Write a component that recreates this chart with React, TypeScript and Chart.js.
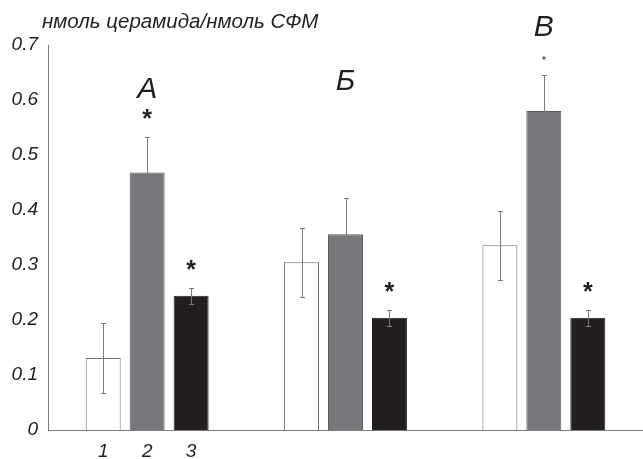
import React, { useEffect, useRef } from "react";
import { Chart, registerables } from "chart.js";

Chart.register(...registerables);

// ---- data ----
const groups = ["А", "Б", "В"];
const seriesLabels = ["1", "2", "3"];
const whiteValues = [0.131, 0.305, 0.336];
const whiteErrors = [0.063, 0.063, 0.063];
const grayValues = [0.468, 0.356, 0.58];
const grayErrors = [0.064, 0.065, 0.065];
const blackValues = [0.244, 0.204, 0.204];
const blackErrors = [0.014, 0.014, 0.014];
const whiteStars = ["", "", ""];
const grayStars = ["*", "", "*"];
const blackStars = ["*", "*", "*"];
const groupLetterLevels = [0.624, 0.638, 0.735];
const yTickLabels = ["0", "0.1", "0.2", "0.3", "0.4", "0.5", "0.6", "0.7"];
const yTitle = "нмоль церамида/нмоль СФМ";

const FONT = "'Liberation Sans', Arial, sans-serif";
const TEXT = "#231f20";

const errorsBySeries = [whiteErrors, grayErrors, blackErrors];
const starsBySeries = [whiteStars, grayStars, blackStars];

const annotationPlugin = {
  id: "annotations",
  afterDatasetsDraw(chart: any) {
    const ctx = chart.ctx;
    const yScale = chart.scales.y;
    const xScale = chart.scales.x;
    const area = chart.chartArea;
    ctx.save();
    // error bars + stars
    chart.data.datasets.forEach((ds: any, i: number) => {
      const meta = chart.getDatasetMeta(i);
      meta.data.forEach((el: any, j: number) => {
        const v = ds.data[j];
        const e = errorsBySeries[i][j];
        const top = yScale.getPixelForValue(v + e);
        const bot = yScale.getPixelForValue(v - e);
        const x = Math.round(el.x) + 0.5;
        ctx.strokeStyle = "#7a7a7a";
        ctx.lineWidth = 1;
        ctx.beginPath();
        ctx.moveTo(x, Math.round(top) + 0.5);
        ctx.lineTo(x, Math.round(bot) + 0.5);
        ctx.moveTo(x - 2.5, Math.round(top) + 0.5);
        ctx.lineTo(x + 2.5, Math.round(top) + 0.5);
        ctx.moveTo(x - 2.5, Math.round(bot) + 0.5);
        ctx.lineTo(x + 2.5, Math.round(bot) + 0.5);
        ctx.stroke();
        const star = starsBySeries[i][j];
        if (star) {
          const small = i === 1 && j === 2;
          const size = small ? 11 : 25;
          const gap = small ? 18 : 25;
          ctx.fillStyle = TEXT;
          ctx.font = `${small ? "normal" : "bold"} ${size}px ${FONT}`;
          ctx.textAlign = "center";
          ctx.textBaseline = "alphabetic";
          ctx.fillText(star, el.x, top - gap + 0.58 * size);
        }
      });
    });
    // group letters
    ctx.fillStyle = TEXT;
    ctx.font = `italic 30px ${FONT}`;
    ctx.textAlign = "center";
    ctx.textBaseline = "alphabetic";
    groups.forEach((g, k) => {
      const cx = xScale.getPixelForValue(k);
      const cy = yScale.getPixelForValue(groupLetterLevels[k]);
      ctx.fillText(g, cx, cy + 0.358 * 30);
    });
    // series numbers under the first group
    ctx.font = `italic 19px ${FONT}`;
    ctx.textBaseline = "middle";
    chart.data.datasets.forEach((_ds: any, i: number) => {
      const el = chart.getDatasetMeta(i).data[0];
      ctx.fillText(seriesLabels[i], el.x, area.bottom + 22);
    });
    // y title
    ctx.font = `italic 20.5px ${FONT}`;
    ctx.textAlign = "left";
    ctx.textBaseline = "alphabetic";
    ctx.fillText(yTitle, area.left - 6, area.top - 17);
    ctx.restore();
  },
};

export default function App() {
  const ref = useRef<HTMLCanvasElement | null>(null);
  useEffect(() => {
    if (!ref.current) return;
    const chart = new Chart(ref.current, {
      type: "bar",
      data: {
        labels: groups,
        datasets: [
          {
            label: seriesLabels[0],
            data: whiteValues,
            backgroundColor: "#ffffff",
            borderColor: "#6d6e71",
            borderWidth: 1,
          },
          {
            label: seriesLabels[1],
            data: grayValues,
            backgroundColor: "#77787b",
            borderColor: "#5a5b5e",
            borderWidth: 1,
          },
          {
            label: seriesLabels[2],
            data: blackValues,
            backgroundColor: "#231f20",
            borderColor: "#231f20",
            borderWidth: 1,
          },
        ],
      },
      options: {
        responsive: false,
        animation: false,
        events: [],
        categoryPercentage: 0.665,
        barPercentage: 0.795,
        layout: { padding: { top: 45, right: 0, bottom: 29, left: 0 } },
        plugins: {
          legend: { display: false },
          tooltip: { enabled: false },
          title: { display: false },
        },
        scales: {
          x: {
            type: "category",
            offset: true,
            grid: { display: false, drawTicks: false },
            border: { display: true, color: "#7a7a7a", width: 1 },
            ticks: { display: false },
          },
          y: {
            min: 0,
            max: 0.7,
            afterFit: (s: any) => {
              s.width = 48;
            },
            grid: { display: false, drawTicks: false },
            border: { display: true, color: "#7a7a7a", width: 1 },
            ticks: {
              stepSize: 0.1,
              padding: 10,
              color: TEXT,
              font: { family: FONT, size: 19, style: "italic" },
              callback: (_v: any, idx: number) => yTickLabels[idx],
            },
          },
        },
      },
      plugins: [annotationPlugin],
    });
    return () => chart.destroy();
  }, []);
  return (
    <div style={{ position: "absolute", left: 0, top: 0, width: 643, height: 459, background: "#fff" }}>
      <canvas ref={ref} width={643} height={459} />
    </div>
  );
}
